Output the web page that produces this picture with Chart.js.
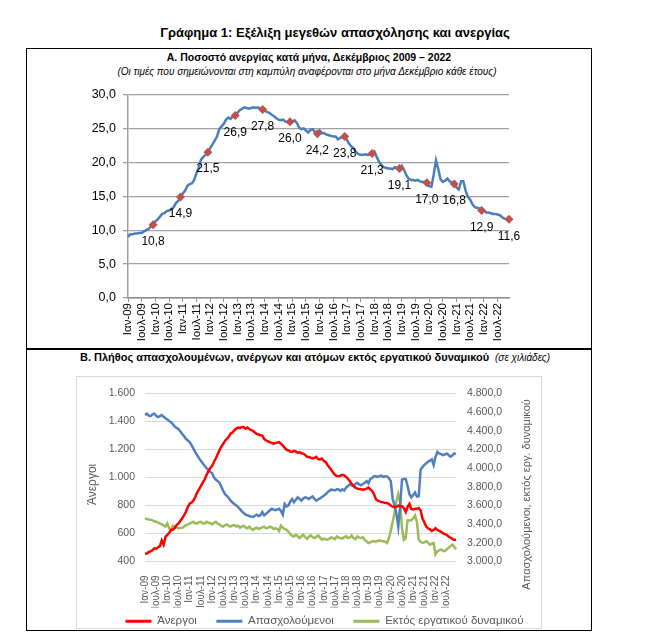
<!DOCTYPE html>
<html>
<head>
<meta charset="utf-8">
<script src="https://cdn.jsdelivr.net/npm/chart.js@4.4.0/dist/chart.umd.min.js"></script>
<style>
  body { margin: 0; background: #fff; font-family: "Liberation Sans", Arial, sans-serif; }
  #page { position: relative; width: 645px; height: 641px; }
  .t { position: absolute; white-space: nowrap; color: #000; }
  canvas { position: absolute; }
</style>
</head>
<body>
<div id="page">
  <div class="t" style="left:0;width:670px;top:25px;text-align:center;font-weight:bold;font-size:13px;">Γράφημα 1: Εξέλιξη μεγεθών απασχόλησης και ανεργίας</div>

  <div style="position:absolute;left:26px;top:48px;width:566px;height:583px;border:1.5px solid #000;box-sizing:border-box;"></div>
  <div style="position:absolute;left:26px;top:348px;width:566px;height:1.5px;background:#000;"></div>

  <div class="t" style="left:26px;width:566px;top:51px;text-align:center;font-weight:bold;font-size:10.5px;">Α. Ποσοστό ανεργίας κατά μήνα, Δεκέμβριος 2009 – 2022</div>
  <div class="t" style="left:26px;width:562px;top:66px;text-align:center;font-style:italic;font-size:10px;">(Οι τιμές που σημειώνονται στη καμπύλη αναφέρονται στο μήνα Δεκέμβριο κάθε έτους)</div>
  <canvas id="chartA" width="480" height="268" style="left:60px;top:80px;width:480px;height:268px;"></canvas>

  <div class="t" style="left:80px;top:351px;font-weight:bold;font-size:11px;">Β. Πλήθος απασχολουμένων, ανέργων και ατόμων εκτός εργατικού δυναμικού <span style="font-weight:normal;font-style:italic;font-size:10px;">&nbsp;(σε χιλιάδες)</span></div>
  <div style="position:absolute;left:76px;top:376px;width:466px;height:253px;border:1px solid #d9d9d9;box-sizing:border-box;"></div>
  <canvas id="chartB" width="466" height="261" style="left:76px;top:376px;width:466px;height:261px;"></canvas>
</div>

<script>
const months = ['Ιαν', 'Φεβ', 'Μαρ', 'Απρ', 'Μαϊ', 'Ιουν', 'Ιουλ', 'Αυγ', 'Σεπ', 'Οκτ', 'Νοε', 'Δεκ'];
const years = ['09', '10', '11', '12', '13', '14', '15', '16', '17', '18', '19', '20', '21', '22'];
const labels = years.flatMap(y => months.map(m => m + '-' + y));

// Ποσοστό ανεργίας (%), Ιαν 2009 - Δεκ 2022
const unemploymentRate = [
  9.0, 9.4, 9.4, 9.5, 9.5, 9.6, 9.6, 9.8, 10.0, 10.2, 10.5, 10.8,
  11.3, 11.6, 12.0, 12.4, 12.5, 12.8, 12.9, 13.1, 13.4, 14.0, 14.3, 14.9,
  15.4, 15.8, 16.5, 16.8, 16.9, 17.4, 18.4, 19.2, 20.4, 20.8, 21.1, 21.5,
  22.1, 22.6, 23.2, 23.8, 24.9, 25.3, 25.7, 26.3, 26.6, 26.4, 26.8, 26.9,
  27.3, 27.7, 27.9, 28.1, 28.0, 27.9, 28.0, 28.1, 28.0, 28.1, 27.9, 27.8,
  27.6, 27.4, 27.3, 27.0, 26.8, 26.5, 26.3, 26.2, 26.3, 26.0, 25.9, 26.0,
  25.9, 26.2, 25.8, 25.1, 24.9, 25.0, 24.7, 24.4, 24.8, 24.9, 24.4, 24.2,
  24.7, 24.3, 24.3, 24.1, 24.0, 23.9, 23.8, 23.8, 23.4, 23.6, 23.7, 23.8,
  23.3, 22.7, 22.3, 22.0, 21.5, 21.2, 21.1, 21.1, 21.2, 21.1, 21.2, 21.3,
  21.6, 20.8, 20.1, 19.6, 19.3, 19.2, 19.1, 19.1, 19.0, 19.3, 19.1, 19.1,
  19.5, 18.9, 18.1, 17.6, 17.4, 17.4, 17.3, 17.4, 17.2, 17.1, 17.1, 17.0,
  16.5, 16.4, 18.2, 20.3, 19.0, 17.5, 17.1, 17.3, 17.6, 17.2, 17.0, 16.8,
  16.3, 16.0, 17.2, 17.2, 15.8, 14.9, 14.5, 13.8, 13.4, 13.3, 13.2, 12.9,
  12.9, 12.6, 12.6, 12.5, 12.4, 12.4, 12.3, 12.2, 11.9, 11.7, 11.6, 11.6
];

// Άνεργοι (χιλ.)
const unemployed = [
  455, 457, 468, 472, 480, 495, 490, 502, 510, 550, 520, 575,
  590, 605, 625, 628, 640, 660, 672, 690, 708, 730, 755, 790,
  812, 820, 834, 860, 892, 915, 938, 962, 985, 1015, 1043, 1065,
  1080, 1110, 1135, 1165, 1193, 1220, 1240, 1262, 1275, 1290, 1314, 1320,
  1337, 1348, 1356, 1352, 1360, 1358, 1348, 1356, 1345, 1337, 1332, 1320,
  1310, 1306, 1300, 1298, 1275, 1263, 1258, 1252, 1246, 1240, 1245, 1248,
  1252, 1240, 1228, 1210, 1198, 1192, 1185, 1182, 1189, 1185, 1175, 1180,
  1172, 1170, 1160, 1147, 1145, 1140, 1135, 1140, 1147, 1130, 1128, 1135,
  1119, 1110, 1089, 1070, 1054, 1035, 1019, 1010, 1008, 1012, 1019, 1015,
  1003, 990, 973, 955, 938, 927, 920, 918, 915, 912, 915, 920,
  927, 915, 903, 880, 845, 834, 829, 825, 822, 818, 818, 810,
  799, 792, 787, 790, 799, 794, 794, 780, 753, 790, 811, 775,
  771, 776, 776, 781, 765, 706, 680, 650, 637, 630, 618, 625,
  637, 625, 618, 612, 602, 595, 590, 579, 570, 562, 555, 555
];

// Απασχολούμενοι (χιλ.)
const employed = [
  4567, 4581, 4560, 4556, 4575, 4581, 4560, 4546, 4555, 4567, 4548, 4532,
  4520, 4504, 4490, 4469, 4445, 4430, 4417, 4390, 4365, 4340, 4313, 4295,
  4278, 4245, 4208, 4170, 4139, 4105, 4079, 4050, 4024, 4000, 3982, 3960,
  3947, 3900, 3877, 3860, 3843, 3800, 3756, 3720, 3703, 3680, 3651, 3630,
  3616, 3600, 3581, 3560, 3536, 3520, 3501, 3495, 3487, 3480, 3477, 3490,
  3501, 3487, 3495, 3529, 3494, 3510, 3529, 3545, 3564, 3557, 3550, 3557,
  3564, 3540, 3501, 3616, 3590, 3599, 3640, 3669, 3634, 3660, 3686, 3670,
  3651, 3675, 3686, 3680, 3669, 3685, 3696, 3670, 3651, 3665, 3676, 3690,
  3703, 3720, 3740, 3756, 3770, 3766, 3760, 3773, 3770, 3756, 3773, 3760,
  3790, 3808, 3825, 3815, 3808, 3830, 3843, 3825, 3815, 3830, 3843, 3860,
  3836, 3884, 3895, 3912, 3912, 3905, 3915, 3919, 3905, 3912, 3910, 3890,
  3860, 3669, 3600, 3512, 3373, 3599, 3877, 3884, 3884, 3808, 3720, 3686,
  3710, 3738, 3696, 3700, 3982, 4010, 4034, 4050, 4069, 4080, 4093, 4034,
  4120, 4173, 4156, 4150, 4139, 4145, 4156, 4140, 4121, 4135, 4156, 4149
];

// Εκτός εργατικού δυναμικού (χιλ.)
const inactive = [
  3460, 3455, 3450, 3448, 3440, 3430, 3425, 3415, 3407, 3397, 3385, 3373,
  3407, 3355, 3338, 3383, 3373, 3365, 3355, 3360, 3362, 3375, 3390, 3395,
  3407, 3415, 3425, 3410, 3407, 3420, 3425, 3410, 3407, 3425, 3415, 3410,
  3397, 3415, 3425, 3405, 3397, 3380, 3373, 3390, 3397, 3380, 3373, 3385,
  3390, 3375, 3383, 3362, 3372, 3383, 3365, 3355, 3373, 3350, 3338, 3355,
  3362, 3350, 3355, 3365, 3373, 3355, 3360, 3373, 3365, 3348, 3355, 3350,
  3327, 3383, 3360, 3348, 3338, 3320, 3292, 3275, 3268, 3286, 3270, 3251,
  3270, 3286, 3260, 3244, 3265, 3279, 3260, 3251, 3265, 3279, 3255, 3233,
  3244, 3238, 3233, 3245, 3258, 3251, 3240, 3268, 3255, 3251, 3245, 3261,
  3270, 3250, 3258, 3279, 3250, 3240, 3268, 3255, 3251, 3261, 3230, 3216,
  3198, 3205, 3216, 3220, 3210, 3223, 3225, 3220, 3216, 3212, 3198, 3251,
  3330, 3425, 3520, 3650, 3721, 3634, 3355, 3233, 3251, 3442, 3440, 3442,
  3460, 3494, 3425, 3233, 3210, 3198, 3205, 3216, 3200, 3181, 3190, 3198,
  3077, 3111, 3120, 3129, 3115, 3111, 3130, 3146, 3165, 3181, 3160, 3129
];

const FONT = '"Liberation Sans", Arial, sans-serif';
const comma1 = v => v.toFixed(1).replace('.', ',');
const thousands = v => v >= 1000 ? Math.floor(v / 1000) + '.' + String(v % 1000).padStart(3, '0') : String(v);
const everySixth = function (v, i) { return i % 6 === 0 ? this.getLabelForValue(v) : ''; };

// ---------- Γράφημα Α ----------
const decLabels = {
  id: 'decLabels',
  afterDatasetsDraw(chart) {
    const ctx = chart.ctx;
    const meta = chart.getDatasetMeta(0);
    ctx.save();
    ctx.font = '12px ' + FONT;
    ctx.fillStyle = '#000';
    ctx.textAlign = 'center';
    ctx.textBaseline = 'middle';
    meta.data.forEach((pt, i) => {
      if (i % 12 === 11) ctx.fillText(comma1(unemploymentRate[i]), pt.x, pt.y + 17);
    });
    ctx.restore();
  }
};

new Chart(document.getElementById('chartA'), {
  type: 'line',
  data: {
    labels: labels,
    datasets: [{
      data: unemploymentRate,
      borderColor: '#4a7ebb',
      borderWidth: 2.5,
      tension: 0,
      pointStyle: 'rectRot',
      pointRadius: c => (c.dataIndex % 12 === 11 ? 4.5 : 0),
      pointBackgroundColor: '#c0504d',
      pointBorderWidth: 0
    }]
  },
  options: {
    responsive: false,
    animation: false,
    layout: { padding: { top: 9, right: 31, left: 0, bottom: 0 } },
    plugins: { legend: { display: false }, tooltip: { enabled: false } },
    scales: {
      x: {
        offset: false,
        grid: {
          drawOnChartArea: false,
          tickLength: 4,
          color: c => (c.index % 6 === 0 ? '#8c8c8c' : 'transparent')
        },
        border: { color: '#8c8c8c', width: 1.5 },
        ticks: {
          autoSkip: false, minRotation: 90, maxRotation: 90, padding: 1,
          color: '#000', font: { family: FONT, size: 11.5 },
          callback: everySixth
        },
        afterFit: s => { s.height = 50; }
      },
      y: {
        min: 0, max: 30,
        ticks: { stepSize: 5, padding: 7, color: '#000', font: { family: FONT, size: 12.5 }, callback: v => comma1(v) },
        grid: { color: '#a0a0a0', lineWidth: 1.3, tickLength: 5 },
        border: { color: '#a0a0a0', width: 1.5 },
        afterFit: s => { s.width = 68; }
      }
    }
  },
  plugins: [decLabels]
});

// ---------- Γράφημα Β ----------
const axisTitles = {
  id: 'axisTitles',
  afterDraw(chart) {
    const ctx = chart.ctx;
    const a = chart.chartArea;
    const midY = (a.top + a.bottom) / 2;
    ctx.save();
    ctx.font = '12px ' + FONT;
    ctx.fillStyle = '#595959';
    ctx.textAlign = 'center';
    ctx.textBaseline = 'middle';
    ctx.translate(a.left - 52, midY + 7);
    ctx.rotate(-Math.PI / 2);
    ctx.fillText('Άνεργοι', 0, 0);
    ctx.restore();
    ctx.save();
    ctx.font = '11px ' + FONT;
    ctx.fillStyle = '#595959';
    ctx.textAlign = 'center';
    ctx.textBaseline = 'middle';
    ctx.translate(a.right + 71, midY + 17);
    ctx.rotate(-Math.PI / 2);
    ctx.fillText('Απασχολούμενοι, εκτός εργ. δυναμικού', 0, 0);
    ctx.restore();
  }
};

new Chart(document.getElementById('chartB'), {
  type: 'line',
  data: {
    labels: labels,
    datasets: [
      { label: 'Άνεργοι', data: unemployed, yAxisID: 'y', borderColor: '#ff0000', backgroundColor: '#ff0000', borderWidth: 2.5, pointRadius: 0, tension: 0 },
      { label: 'Απασχολούμενοι', data: employed, yAxisID: 'y2', borderColor: '#4f7fbf', backgroundColor: '#4f7fbf', borderWidth: 2.5, pointRadius: 0, tension: 0 },
      { label: 'Εκτός εργατικού δυναμικού', data: inactive, yAxisID: 'y2', borderColor: '#9bbb59', backgroundColor: '#9bbb59', borderWidth: 2.5, pointRadius: 0, tension: 0 }
    ]
  },
  options: {
    responsive: false,
    animation: false,
    layout: { padding: { top: 12, right: 0, left: 31, bottom: 0 } },
    plugins: {
      tooltip: { enabled: false },
      legend: {
        position: 'bottom',
        labels: {
          boxWidth: 26, boxHeight: 3, padding: 8,
          color: '#595959', font: { family: FONT, size: 11.5 },
          // λεπτή γραμμή αντί για κουτί, λίγο περισσότερος χώρος ανάμεσα στα στοιχεία
          generateLabels: chart => Chart.defaults.plugins.legend.labels.generateLabels(chart)
            .map((l, i, all) => ({ ...l, lineWidth: 0, text: i < all.length - 1 ? l.text + '\u2003' : l.text }))
        }
      }
    },
    scales: {
      x: {
        offset: false,
        grid: { display: false },
        border: { display: false },
        ticks: {
          autoSkip: false, minRotation: 90, maxRotation: 90, padding: 6,
          color: '#595959', font: { family: FONT, size: 10 },
          callback: everySixth
        },
        afterFit: s => { s.height = 46; }
      },
      y: {
        position: 'left',
        min: 400, max: 1600,
        ticks: { stepSize: 200, padding: 10, color: '#595959', font: { family: FONT, size: 10.5 }, callback: v => thousands(v) },
        grid: { color: '#d9d9d9', drawTicks: false },
        border: { display: false },
        afterFit: s => { s.width = 38; }
      },
      y2: {
        position: 'right',
        min: 3000, max: 4800,
        ticks: { stepSize: 200, padding: 11, color: '#595959', font: { family: FONT, size: 10.5 }, callback: v => thousands(v) + ',0' },
        grid: { drawOnChartArea: false, drawTicks: false },
        border: { display: false },
        afterFit: s => { s.width = 86; }
      }
    }
  },
  plugins: [axisTitles]
});
</script>
</body>
</html>
